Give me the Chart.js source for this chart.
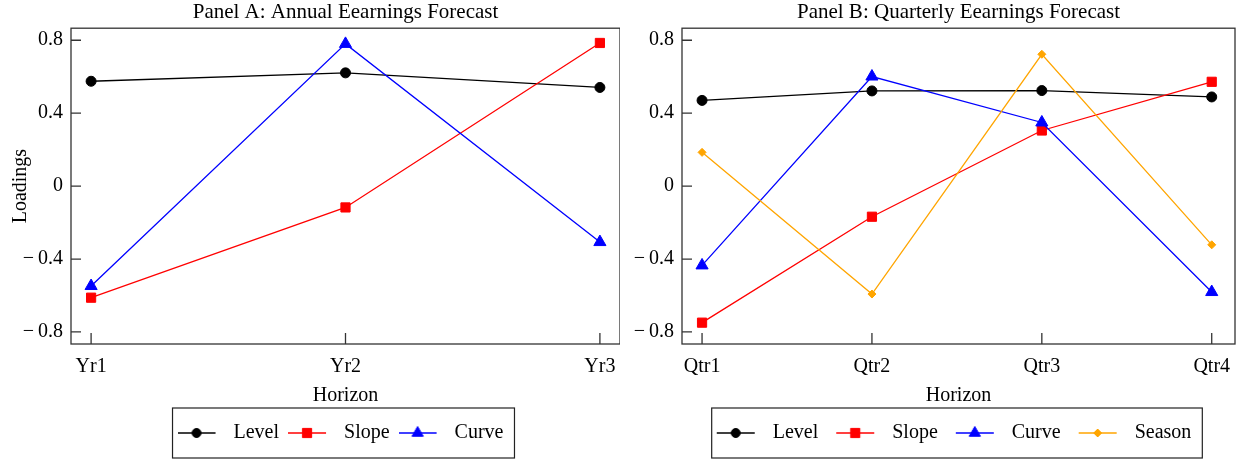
<!DOCTYPE html>
<html><head><meta charset="utf-8">
<script src="https://cdn.jsdelivr.net/npm/chart.js@4/dist/chart.umd.min.js"></script>
<style>
html,body{margin:0;padding:0;background:#fff;}
#wrap{display:flex;width:1239px;height:459px;}
.p{position:relative;height:459px;}
</style></head><body>
<div id="wrap"><div class="p" style="width:620px"><canvas id="cA"></canvas></div><div class="p" style="width:619px"><canvas id="cB"></canvas></div></div>
<script>
const annualCategories = ['Yr1','Yr2','Yr3'];
const quarterlyCategories = ['Qtr1','Qtr2','Qtr3','Qtr4'];
const yTickValues = [-0.8,-0.4,0,0.4,0.8];
const yTickLabels = ['\u2212\u20090.8','\u2212\u20090.4','0','0.4','0.8'];
const annualLevel = [0.575,0.621,0.541];
const annualSlope = [-0.612,-0.117,0.785];
const annualCurve = [-0.548,0.780,-0.307];
const quarterlyLevel = [0.470,0.522,0.524,0.489];
const quarterlySlope = [-0.749,-0.168,0.305,0.572];
const quarterlyCurve = [-0.435,0.601,0.349,-0.581];
const quarterlySeason = [0.185,-0.592,0.723,-0.322];

Chart.defaults.font.family = "'Liberation Serif','Times New Roman',serif";
Chart.defaults.color = '#000';

const styles = {
  Level: {color:'#000000', pointStyle:'circle', radius:5, legendRadius:4.5, order:4},
  Slope: {color:'#ff0000', pointStyle:'rect', radius:6.5, legendRadius:6.5, order:3},
  Curve: {color:'#0000ff', pointStyle:'triangle', radius:7, legendRadius:6.5, order:2},
  Season:{color:'#ffa500', pointStyle:'rectRot', radius:4, legendRadius:4, order:1}
};

function makeIcon(name, lead){
  const s = styles[name];
  const c = document.createElement('canvas'); c.width = 46 + lead; c.height = 16;
  const ctx = c.getContext('2d');
  ctx.strokeStyle = s.color; ctx.fillStyle = s.color; ctx.lineWidth = 1.3;
  ctx.beginPath(); ctx.moveTo(lead,8); ctx.lineTo(lead+38,8); ctx.stroke();
  ctx.lineWidth = 1;
  Chart.helpers.drawPoint(ctx, {pointStyle:s.pointStyle, radius:s.legendRadius, borderWidth:1, rotation:0}, lead+19, 8);
  return c;
}

function ds(name, values){
  const s = styles[name];
  return {
    label: name,
    data: values.map((v,i)=>({x:i, y:v})),
    borderColor: s.color, backgroundColor: s.color,
    borderWidth: 1.3, pointStyle: s.pointStyle, pointRadius: s.radius,
    pointBorderWidth: 1, pointHoverRadius: s.radius, order: s.order,
    tension: 0, clip: false
  };
}

function framePlugin(lead, legendShift){
  return {
    id: 'frame',
    afterLayout(chart){
      const lg = chart.legend;
      if (lg){ lg.left += legendShift; lg.right += legendShift; }
    },
    afterDraw(chart){
      const {ctx, chartArea:a, scales:{x, y}} = chart;
      ctx.save();
      ctx.strokeStyle = '#333'; ctx.lineWidth = 1.3;
      ctx.strokeRect(a.left, a.top, a.right - a.left, a.bottom - a.top);
      ctx.beginPath();
      x.ticks.forEach(t => { const px = x.getPixelForValue(t.value); ctx.moveTo(px, a.bottom); ctx.lineTo(px, a.bottom - 11); });
      y.ticks.forEach(t => { const py = y.getPixelForValue(t.value); ctx.moveTo(a.left, py); ctx.lineTo(a.left + 10, py); });
      ctx.stroke();
      const hb = chart.legend && chart.legend.legendHitBoxes;
      if (hb && hb.length){
        const first = hb[0], last = hb[hb.length-1];
        const cy = first.top + first.height/2;
        const l = first.left + lead - 5, r = last.left + last.width + 11;
        ctx.strokeStyle = '#222'; ctx.lineWidth = 1.2;
        ctx.strokeRect(l, cy - 25, r - l, 50);
      }
      ctx.restore();
    }
  };
}

function makeChart(id, title, categories, datasets, xmin, xmax, yAxisWidth, showYTitle, padRight, lead, legendShift){
  return new Chart(document.getElementById(id), {
    type: 'line',
    data: { datasets },
    plugins: [framePlugin(lead, legendShift)],
    options: {
      responsive: true, maintainAspectRatio: false, animation: false,
      layout: { autoPadding:false, padding: {left:0, right:padRight, top:0, bottom:6} },
      plugins: {
        title: { display:true, fullSize:false, text:title, font:{size:21, weight:'normal'}, color:'#000', padding:{top:0,bottom:3} },
        tooltip: { enabled:false },
        legend: {
          position:'bottom', fullSize:false,
          labels: {
            usePointStyle:true, pointStyleWidth:46 + lead, padding:9, font:{size:20}, color:'#000',
            generateLabels(chart){
              return chart.data.datasets.map((d,i)=>({text:d.label, pointStyle:makeIcon(d.label, lead), datasetIndex:i, hidden:false, lineWidth:0, strokeStyle:'transparent', fillStyle:'transparent', fontColor:'#000'}));
            }
          }
        }
      },
      scales: {
        x: {
          type:'linear', min:xmin, max:xmax,
          grid:{display:false, drawTicks:false}, border:{display:false},
          afterBuildTicks: s => { s.ticks = categories.map((c,i)=>({value:i})); },
          afterFit: s => { s.height = 70; s.paddingLeft = 0; s.paddingRight = 0; },
          ticks:{ padding:11, font:{size:20}, color:'#000', autoSkip:false, maxRotation:0, callback: v => categories[v] },
          title:{ display:true, text:'Horizon', font:{size:20}, color:'#000', padding:{top:4,bottom:6} }
        },
        y: {
          type:'linear', min:-0.866, max:0.866,
          grid:{display:false, drawTicks:false}, border:{display:false},
          afterBuildTicks: s => { s.ticks = yTickValues.map(v=>({value:v})); },
          afterFit: s => { s.width = yAxisWidth; s.paddingTop = 0; s.paddingBottom = 0; },
          ticks:{ padding:8, font:{size:20}, color:'#000', callback: v => { const i = yTickValues.findIndex(t=>Math.abs(t-v)<1e-9); return i>=0 ? yTickLabels[i] : ''; } },
          title:{ display:showYTitle, text:'Loadings', font:{size:20}, color:'#000', padding:{top:9,bottom:0} }
        }
      }
    }
  });
}

makeChart('cA', 'Panel A: Annual Eearnings Forecast', annualCategories,
  [ds('Level', annualLevel), ds('Slope', annualSlope), ds('Curve', annualCurve)],
  -0.079, 2.079, 71, true, 0, 0, -5);
makeChart('cB', 'Panel B: Quarterly Eearnings Forecast', quarterlyCategories,
  [ds('Level', quarterlyLevel), ds('Slope', quarterlySlope), ds('Curve', quarterlyCurve), ds('Season', quarterlySeason)],
  -0.118, 3.137, 62, false, 4, 9, -9);
</script>
</body></html>
